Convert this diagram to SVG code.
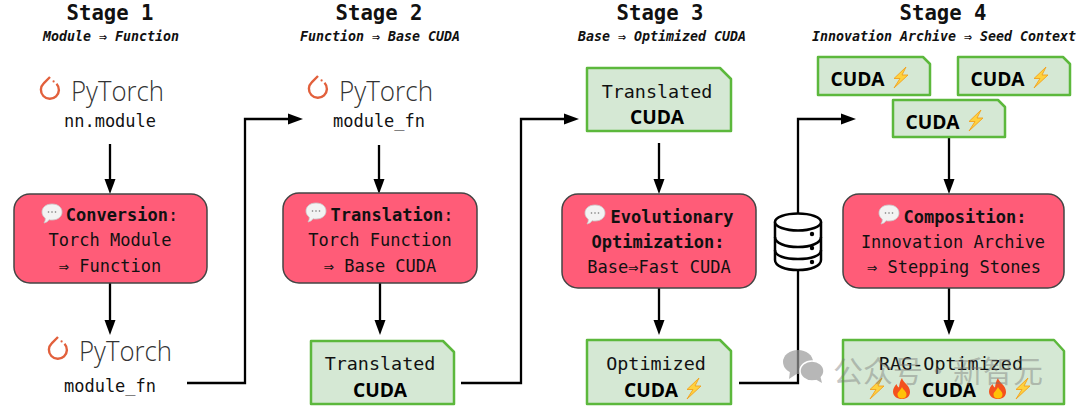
<svg xmlns="http://www.w3.org/2000/svg" width="1080" height="411" viewBox="0 0 1080 411">
<style>
text{font-family:"DejaVu Sans Mono","Liberation Mono",monospace;fill:#111;text-anchor:middle}
.stage{font-size:20.6px;font-weight:700}
.sub{font-size:13.3px;font-weight:700;font-style:italic}
.mono{font-size:17px}
.doc{font-size:18.4px}
.b{font-weight:700}
.cuda{font-family:"Open Sans","Liberation Sans",sans-serif;font-size:19.2px;font-weight:700;fill:#000}
.torch{font-family:"Open Sans","Liberation Sans",sans-serif;font-size:28px;font-weight:300;fill:#333}
.proc{fill:#ff5c78;stroke:#444;stroke-width:1.5}
.file{fill:#d5e8d4;stroke:#5cb83c;stroke-width:2.5;stroke-linejoin:round}
.wire{fill:none;stroke:#000;stroke-width:2.3;marker-end:url(#head)}
.mark{font-family:"Noto Sans CJK SC",sans-serif;font-size:30px;fill:#777;fill-opacity:.6;text-anchor:start}
</style>
<defs>
<marker id="head" markerUnits="userSpaceOnUse" markerWidth="16" markerHeight="12" refX="0" refY="6" orient="auto"><path d="M0 .5L15 6L0 11.500z" fill="#000"/></marker>
<g id="logo"><path d="M0-14L-6.300-7.700A9 9 0 1 0 6.500-7.300" fill="none" stroke="#e2603c" stroke-width="2.400"/><circle cx="3.600" cy="-9.600" r="1.100" fill="#e2603c"/></g>
<g id="bubble"><path d="M10 0C16 0 20 3.400 20 8C20 12.600 16 16 10 16C9 16 8 16 7 15.700C6 17.500 4 18.500 2 19C3 17.500 3.500 15.800 3.200 14C1 12.500 0 10.400 0 8C0 3.400 4 0 10 0z" fill="#f3f3f3" stroke="#c9c9c9" stroke-width=".8"/><circle cx="6.500" cy="8" r=".8" fill="#777"/><circle cx="10" cy="8" r=".8" fill="#777"/><circle cx="13.500" cy="8" r=".8" fill="#777"/></g>
<path id="bolt" d="M13 0L1 11.500L7 11.500L1 21L15 8L9 8z" fill="#ffd23e" stroke="#f2a01d" stroke-width=".9" stroke-linejoin="round"/>
<g id="fire"><path d="M9 0C10 5 17 7 17 14C17 18.500 13.500 21 9 21C4.500 21 0 18.500 0 13.500C0 10 2 8 3.500 6C4 8 5 9 6 9.500C6.500 6 7 3 9 0z" fill="#f4511e"/><path d="M9 9C10 12 13.500 13 13.500 16.500C13.500 19 11.500 20.500 9 20.500C6.500 20.500 4.500 19 4.500 16.500C4.500 14 7.500 12.500 9 9z" fill="#ffc107"/></g>
</defs>

<g id="connectors">
<path class="wire" d="M110 144V179"/>
<path class="wire" d="M110 283V320"/>
<path class="wire" d="M379 145V179"/>
<path class="wire" d="M380 283V320"/>
<path class="wire" d="M659 143V179"/>
<path class="wire" d="M659 288V320"/>
<path class="wire" d="M949 138V179"/>
<path class="wire" d="M949 288V320"/>
<path class="wire" d="M187 383H245V119H288"/>
<path class="wire" d="M461 383H521V119H564"/>
<path class="wire" d="M739 383H798V119H841"/>
</g>

<g id="headers">
<text class="stage" x="110" y="20">Stage 1</text><text class="sub" x="111" y="41">Module ⇒ Function</text>
<text class="stage" x="379" y="20">Stage 2</text><text class="sub" x="380" y="41">Function ⇒ Base CUDA</text>
<text class="stage" x="660" y="20">Stage 3</text><text class="sub" x="662" y="41">Base ⇒ Optimized CUDA</text>
<text class="stage" x="943" y="20">Stage 4</text><text class="sub" x="944" y="41">Innovation Archive ⇒ Seed Context</text>
</g>

<g id="torch1"><use href="#logo" x="50" y="91"/><text class="torch" x="117.500" y="101" textLength="93" lengthAdjust="spacingAndGlyphs">PyTorch</text><text class="mono" x="110" y="127">nn.module</text></g>
<g id="torch2"><use href="#logo" x="58" y="351"/><text class="torch" x="125.500" y="361" textLength="93" lengthAdjust="spacingAndGlyphs">PyTorch</text><text class="mono" x="110" y="392">module_fn</text></g>
<g id="torch3"><use href="#logo" x="318" y="90"/><text class="torch" x="386" y="101" textLength="94" lengthAdjust="spacingAndGlyphs">PyTorch</text><text class="mono" x="379" y="127">module_fn</text></g>

<g id="conversion"><rect class="proc" x="14" y="194" width="193" height="89" rx="16"/><use href="#bubble" x="42" y="204"/><text class="mono b" x="122" y="221">Conversion<tspan font-weight="400">:</tspan></text><text class="mono" x="110" y="246">Torch Module</text><text class="mono" x="110" y="272">⇒ Function</text></g>
<g id="translation"><rect class="proc" x="283" y="193" width="194" height="90" rx="16"/><use href="#bubble" x="306" y="203"/><text class="mono b" x="392" y="221">Translation<tspan font-weight="400">:</tspan></text><text class="mono" x="380" y="246">Torch Function</text><text class="mono" x="380" y="272">⇒ Base CUDA</text></g>
<g id="evolution"><rect class="proc" x="562" y="194" width="194" height="94" rx="16"/><use href="#bubble" x="585" y="205"/><text class="mono b" x="672" y="223">Evolutionary</text><text class="mono b" x="658" y="248">Optimization:</text><text class="mono" x="659" y="273">Base⇒Fast CUDA</text></g>
<g id="composition"><rect class="proc" x="843" y="194" width="221" height="94" rx="16"/><use href="#bubble" x="879" y="205"/><text class="mono b" x="965" y="223">Composition:</text><text class="mono" x="953" y="248">Innovation Archive</text><text class="mono" x="954" y="273">⇒ Stepping Stones</text></g>

<g id="file-translated-2"><path class="file" d="M311 341H443L454 352V404H311z"/><text class="doc" x="380" y="370">Translated</text><text class="cuda" x="380" y="397">CUDA</text></g>
<g id="file-translated-3"><path class="file" d="M587 68H720L731 79V131H587z"/><text class="doc" x="657" y="98">Translated</text><text class="cuda" x="657" y="124">CUDA</text></g>
<g id="file-optimized"><path class="file" d="M587 340H720L731 351V404H587z"/><text class="doc" x="656" y="370">Optimized</text><text class="cuda" x="651" y="397">CUDA</text><use href="#bolt" x="686" y="378"/></g>
<g id="file-rag"><path class="file" d="M843 340H1054L1064 351V404H843z"/><text class="doc" x="951" y="370">RAG-Optimized</text><text class="cuda" x="949" y="397">CUDA</text><use href="#bolt" x="869" y="378"/><use href="#fire" x="893" y="378"/><use href="#fire" x="989" y="378"/><use href="#bolt" x="1015" y="378"/></g>
<g id="archive-a"><path class="file" d="M818 57H923L930 64V95H818z"/><text class="cuda" x="857.500" y="86">CUDA</text><use href="#bolt" x="893" y="67"/></g>
<g id="archive-b"><path class="file" d="M958 57H1063L1070 64V95H958z"/><text class="cuda" x="997.500" y="86">CUDA</text><use href="#bolt" x="1033" y="67"/></g>
<g id="archive-c"><path class="file" d="M893 100H998L1005 107V137H893z"/><text class="cuda" x="932.500" y="129">CUDA</text><use href="#bolt" x="968" y="110"/></g>

<g id="database" fill="#fff" stroke="#000" stroke-width="2.500">
<path d="M775 223V260C775 266 785 270 798 270C811 270 821 266 821 260V223z"/>
<ellipse cx="798" cy="222" rx="23" ry="8.500"/>
<path d="M775 237C775 243 785 247 798 247C811 247 821 243 821 237M775 250C775 256 785 259 798 259C811 259 821 256 821 250" fill="none"/>
<g fill="#000" stroke="none"><circle cx="812" cy="234" r="2.200"/><circle cx="812" cy="248" r="2.200"/><circle cx="812" cy="262" r="2.200"/></g>
</g>

<g id="watermark" opacity=".7">
<ellipse cx="798" cy="362" rx="15" ry="12" fill="#999"/><path d="M790 371L789 379L798 373z" fill="#999"/>
<ellipse cx="812" cy="371" rx="12" ry="10" fill="#999" stroke="#fff" stroke-width="1.500"/><path d="M815 379L822 383L820 375z" fill="#999"/>
<text class="mark" x="833" y="382">公众号·新智元</text>
</g>
</svg>
